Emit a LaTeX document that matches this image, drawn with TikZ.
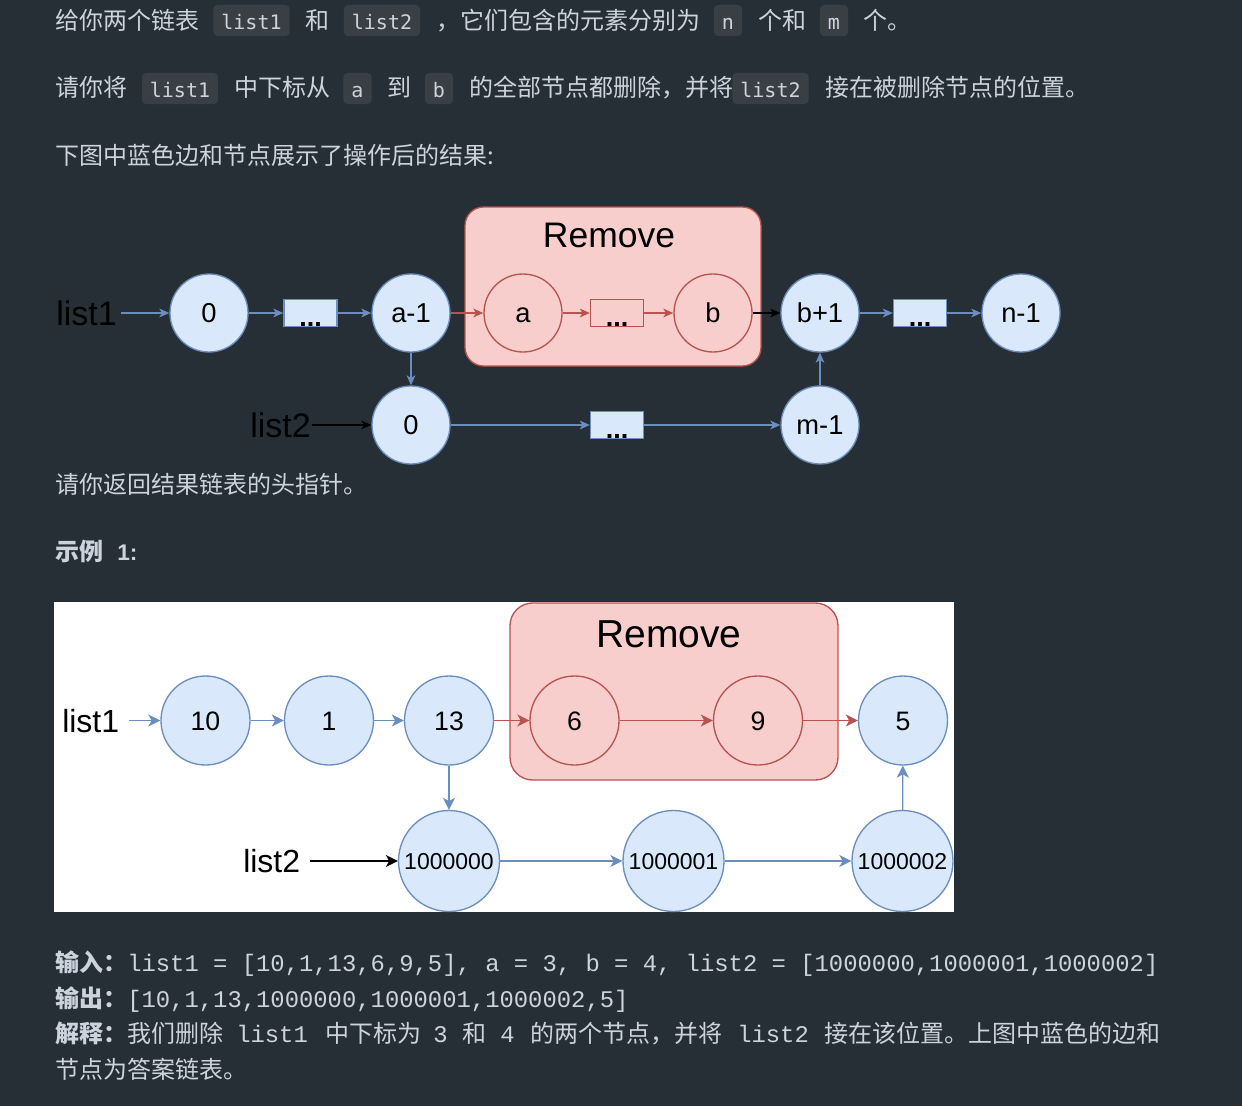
\documentclass[tikz,border=0pt]{standalone}
\usepackage{fontspec}
\newfontfamily\cjk{Noto Sans CJK SC}
\newfontfamily\dgf{Liberation Sans}
\newfontfamily\codef{DejaVu Sans Mono}
\newfontfamily\monof{Liberation Mono}
\usetikzlibrary{arrows.meta}
\definecolor{bg}{RGB}{38,47,54}
\definecolor{txt}{RGB}{205,211,221}
\definecolor{codebg}{RGB}{58,63,68}
\definecolor{bfill}{HTML}{DAE8FC}
\definecolor{bstroke}{HTML}{6C8EBF}
\definecolor{rfill}{HTML}{F8CECC}
\definecolor{rstroke}{HTML}{B85450}
\begin{document}
\begin{tikzpicture}[x=0.75pt,y=-0.75pt,
  t/.style={anchor=base west, inner sep=0pt, text=txt, font=\cjk\fontsize{18pt}{22pt}\selectfont},
  tb/.style={t, font=\cjk\bfseries\fontsize{18pt}{22pt}\selectfont},
  mono/.style={t, font=\monof\fontsize{17.9pt}{22pt}\selectfont},
  code/.style={fill=codebg, rounded corners=3pt, inner xsep=6pt, inner ysep=0pt, text height=18.75pt, text depth=4.5pt, text=txt, font=\codef\fontsize{15pt}{18pt}\selectfont},
  lbl/.style={anchor=base west, inner sep=0pt, text=black, font=\dgf\fontsize{25.5pt}{30pt}\selectfont},
  lbltwo/.style={lbl, font=\dgf\fontsize{24pt}{28pt}\selectfont},
  bn/.style={circle, draw=bstroke, fill=bfill, line width=1pt, inner sep=0pt, minimum size=58.5pt, text=black, font=\dgf\fontsize{20.5pt}{24pt}\selectfont, text height=14.7pt, text depth=0pt},
  rn/.style={bn, draw=rstroke, fill=none},
  bntwo/.style={bn, minimum size=66.75pt, font=\dgf\fontsize{20pt}{24pt}\selectfont, text height=14.3pt},
  rntwo/.style={bntwo, draw=rstroke, fill=none},
  big/.style={bn, minimum size=75.75pt, font=\dgf\fontsize{17.25pt}{21pt}\selectfont, text height=12.35pt},
  br/.style={rectangle, draw=bstroke, fill=bfill, line width=1pt, inner sep=0pt, minimum width=39.75pt, minimum height=20.25pt, text=black, font=\dgf\bfseries\fontsize{20.25pt}{24pt}\selectfont, text height=19.5pt, text depth=0pt},
  rr/.style={br, draw=rstroke, fill=none},
  rbox/.style={draw=rstroke, fill=rfill, line width=1pt, inner sep=0pt},
  rtitle/.style={anchor=base, inner sep=0pt, text=black},
  ba/.style={draw=bstroke, line width=1pt, -{Stealth[length=7.5pt,width=6.5pt,inset=2pt]}},
  ra/.style={ba, draw=rstroke},
  ka/.style={ba, draw=black},
  batwo/.style={draw=bstroke, line width=1pt, -{Stealth[length=9pt,width=9pt,inset=2.5pt]}},
  ratwo/.style={batwo, draw=rstroke},
  katwo/.style={batwo, draw=black}
]
\useasboundingbox (0,0) rectangle (1242,1106);
\fill[bg] (0,0) rectangle (1242,1106);

% ---- top text ----
\node[t] (p1a) at (55,30) {给你两个链表};
\node[code] (p1b) at (251.5,20.5) {list1};
\node[t] (p1c) at (305,30) {和};
\node[code] (p1d) at (382,20.5) {list2};
\node[t] (p1e) at (436,30) {，它们包含的元素分别为};
\node[code] (p1f) at (728,20.5) {n};
\node[t] (p1g) at (758,30) {个和};
\node[code] (p1h) at (834,20.5) {m};
\node[t] (p1i) at (863,30) {个。};

\node[t] (p2a) at (55,97) {请你将};
\node[code] (p2b) at (180,88.5) {list1};
\node[t] (p2c) at (234,97) {中下标从};
\node[code] (p2d) at (357.5,88.5) {a};
\node[t] (p2e) at (387,97) {到};
\node[code] (p2f) at (439,88.5) {b};
\node[t] (p2g) at (469,97) {的全部节点都删除，并将};
\node[code] (p2h) at (770.5,88.5) {list2};
\node[t] (p2i) at (825,97) {接在被删除节点的位置。};

\node[t] (p3) at (55,164) {下图中蓝色边和节点展示了操作后的结果:};

% ---- diagram 1 ----
\node[rbox, rounded corners=14pt, minimum width=222pt, minimum height=119.25pt] (rm1) at (613,286.5) {};
\node[rtitle, font=\dgf\fontsize{26.6pt}{31pt}\selectfont] (rt1) at (609,247) {Remove};

\node[lbl] (l1) at (56,325) {list1};
\node[bn] (n0) at (209,313) {0};
\node[br] (d1) at (310.5,313) {...};
\node[bn] (na1) at (411,313) {a-1};
\node[rn] (na) at (523,313) {a};
\node[rr] (d2) at (617,313) {...};
\node[rn] (nb) at (713,313) {b};
\node[bn] (nb1) at (820,313) {b+1};
\node[br] (d3) at (920,313) {...};
\node[bn] (nn1) at (1021,313) {n-1};
\node[lbl] (l2) at (250,437) {list2};
\node[bn] (m0) at (411,425) {0};
\node[br] (d4) at (617,425) {...};
\node[bn] (mm1) at (820,425) {m-1};

\draw[ba, shorten <=3pt] (l1.east |- n0) -- (n0);
\draw[ba] (n0) -- (d1);
\draw[ba] (d1) -- (na1);
\draw[ra] (na1) -- (na);
\draw[ra] (na) -- (d2);
\draw[ra] (d2) -- (nb);
\draw[ka] (nb) -- (nb1);
\draw[ba] (nb1) -- (d3);
\draw[ba] (d3) -- (nn1);
\draw[ba] (na1) -- (m0);
\draw[ka, shorten <=1pt] (l2.east |- m0) -- (m0);
\draw[ba] (m0) -- (d4);
\draw[ba] (d4) -- (mm1);
\draw[ba] (mm1) -- (nb1);

\node[t] (p4) at (55,493) {请你返回结果链表的头指针。};
\node[tb] (p5a) at (55,560) {示例};
\node[t, font=\dgf\bfseries\fontsize{17pt}{20pt}\selectfont] (p5b) at (117,560) {1:};

% ---- diagram 2 ----
\fill[white] (54,602) rectangle (954,912);
\node[rbox, rounded corners=17pt, minimum width=246pt, minimum height=132.75pt] (rm2) at (674,691.5) {};
\node[rtitle, font=\dgf\fontsize{29.25pt}{34pt}\selectfont] (rt2) at (669,647) {Remove};

\node[lbltwo] (k1) at (62,732) {list1};
\node[bntwo] (e10) at (205.5,720.5) {10};
\node[bntwo] (e1) at (329,720.5) {1};
\node[bntwo] (e13) at (449,720.5) {13};
\node[rntwo] (e6) at (574.5,720.5) {6};
\node[rntwo] (e9) at (758,720.5) {9};
\node[bntwo] (e5) at (903,720.5) {5};
\node[lbltwo] (k2) at (243,872) {list2};
\node[big] (f0) at (449,861) {1000000};
\node[big] (f1) at (673.5,861) {1000001};
\node[big] (f2) at (902.5,861) {1000002};

\draw[batwo, shorten <=7pt] (k1.east |- e10) -- (e10);
\draw[batwo] (e10) -- (e1);
\draw[batwo] (e1) -- (e13);
\draw[ratwo] (e13) -- (e6);
\draw[ratwo] (e6) -- (e9);
\draw[ratwo] (e9) -- (e5);
\draw[batwo] (e13) -- (f0);
\draw[katwo, shorten <=7pt] (k2.east |- f0) -- (f0);
\draw[batwo] (f0) -- (f1);
\draw[batwo] (f1) -- (f2);
\draw[batwo] (f2) -- (e5);

% ---- bottom text ----
\node[tb] (q1a) at (55,971) {输入：};
\node[mono] (q1b) at (127,971) {list1 = [10,1,13,6,9,5], a = 3, b = 4, list2 = [1000000,1000001,1000002]};
\node[tb] (q2a) at (55,1007) {输出：};
\node[mono] (q2b) at (127,1007) {[10,1,13,1000000,1000001,1000002,5]};
\node[tb] (q3a) at (55,1042) {解释：};
\node[t] (q3b) at (127,1042) {我们删除};
\node[mono] (q3c) at (236,1042) {list1};
\node[t] (q3d) at (325,1042) {中下标为};
\node[mono] (q3e) at (433,1042) {3};
\node[t] (q3f) at (462,1042) {和};
\node[mono] (q3g) at (500,1042) {4};
\node[t] (q3h) at (530,1042) {的两个节点，并将};
\node[mono] (q3i) at (737,1042) {list2};
\node[t] (q3j) at (824,1042) {接在该位置。上图中蓝色的边和};
\node[t] (q4) at (55,1078) {节点为答案链表。};
\end{tikzpicture}
\end{document}
